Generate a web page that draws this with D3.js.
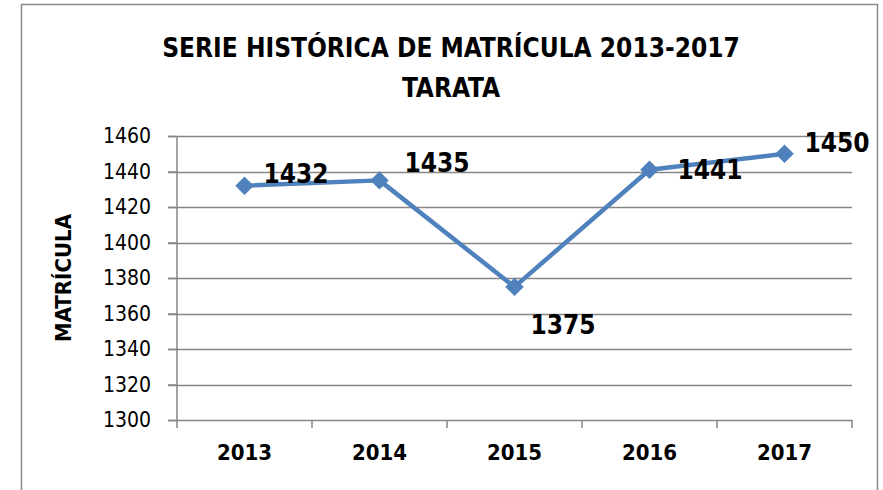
<!DOCTYPE html>
<html lang="es">
<head>
<meta charset="utf-8">
<script src="https://d3js.org/d3.v7.min.js"></script>
<style type="text/css">

body {
	margin: 0;
	background-color: #ffffff;
	font-family: "Liberation Sans Narrow", "DejaVu Sans Condensed", sans-serif;
}

.axis text {
	fill: #000;
}

</style>
</head>
<body>
<script type="text/javascript">

// Data
var years = ["2013", "2014", "2015", "2016", "2017"];
var matricula = [1432, 1435, 1375, 1441, 1450];
var yTicks = [1300, 1320, 1340, 1360, 1380, 1400, 1420, 1440, 1460];
var titleLines = ["SERIE HISTÓRICA DE MATRÍCULA 2013-2017", "TARATA"];
var yTitle = "MATRÍCULA";

var width = 883;
var height = 490;

// plot area
var plotLeft = 177, plotRight = 852, plotTop = 136, plotBottom = 420;

var lineColor = "#4f81bd";
var gridColor = "#868686";
var fontFam = "'Liberation Sans Narrow', 'DejaVu Sans Condensed', sans-serif";

var svg = d3.select("body")
  .append("svg")
  .attr("width", width)
  .attr("height", height);

// chart frame
svg.append("rect")
  .attr("x", 21.5)
  .attr("y", 4.5)
  .attr("width", 856)
  .attr("height", 500)
  .attr("fill", "#fff")
  .attr("stroke", "#8c8c8c")
  .attr("stroke-width", 1.5);

var x = d3.scaleBand()
  .domain(years)
  .range([plotLeft, plotRight]);

var y = d3.scaleLinear()
  .domain([1300, 1460])
  .range([plotBottom, plotTop]);

// gridlines
svg.append("g")
  .selectAll("line")
  .data(yTicks)
  .enter()
  .append("line")
  .attr("x1", plotLeft - 9)
  .attr("x2", plotRight)
  .attr("y1", function(d) { return Math.round(y(d)) + 0.5; })
  .attr("y2", function(d) { return Math.round(y(d)) + 0.5; })
  .attr("stroke", gridColor)
  .attr("stroke-width", 1.5);

// y axis
var yAxis = d3.axisLeft(y).tickValues(yTicks).tickFormat(d3.format("d")).tickSize(9).tickPadding(17);
var gy = svg.append("g")
  .attr("class", "axis")
  .attr("transform", "translate(" + plotLeft + ",0)")
  .call(yAxis);
gy.selectAll("line").attr("stroke", gridColor).attr("stroke-width", 1.5);
gy.select(".domain").remove();
gy.append("line")
  .attr("x1", 0).attr("x2", 0)
  .attr("y1", plotTop).attr("y2", plotBottom + 8)
  .attr("stroke", gridColor).attr("stroke-width", 1.5);
gy.selectAll("text")
  .style("font-family", fontFam)
  .style("font-size", "21px");

// x axis
var xAxis = d3.axisBottom(x).tickSize(0).tickPadding(24);
var gx = svg.append("g")
  .attr("class", "axis")
  .attr("transform", "translate(0," + plotBottom + ")")
  .call(xAxis);
gx.select(".domain").remove();
gx.selectAll("text")
  .style("font-family", fontFam)
  .style("font-size", "22px")
  .style("font-weight", "bold");

// x tick marks at band boundaries
svg.append("g")
  .selectAll("line")
  .data(years)
  .enter()
  .append("line")
  .attr("x1", function(d) { return x(d) + x.bandwidth(); })
  .attr("x2", function(d) { return x(d) + x.bandwidth(); })
  .attr("y1", plotBottom)
  .attr("y2", plotBottom + 8)
  .attr("stroke", gridColor)
  .attr("stroke-width", 1.5);

// line
var line = d3.line()
  .x(function(d, i) { return x(years[i]) + x.bandwidth() / 2; })
  .y(function(d) { return y(d); });

svg.append("path")
  .datum(matricula)
  .attr("d", line)
  .attr("fill", "none")
  .attr("stroke", lineColor)
  .attr("stroke-width", 4.5)
  .attr("stroke-linejoin", "round");

// diamond markers
svg.append("g")
  .selectAll("path")
  .data(matricula)
  .enter()
  .append("path")
  .attr("d", d3.symbol().type(d3.symbolSquare).size(170))
  .attr("transform", function(d, i) {
    return "translate(" + (x(years[i]) + x.bandwidth() / 2) + "," + y(d) + ") rotate(45)";
  })
  .attr("fill", lineColor);

// data labels (offset from the point)
var labelOffsets = [[19, -3], [25, -8], [16, 47], [28, 9], [20, -2]];
svg.append("g")
  .selectAll("text")
  .data(matricula)
  .enter()
  .append("text")
  .attr("x", function(d, i) { return x(years[i]) + x.bandwidth() / 2 + labelOffsets[i][0]; })
  .attr("y", function(d, i) { return y(d) + labelOffsets[i][1]; })
  .style("font-size", "26px")
  .style("font-weight", "bold")
  .text(function(d) { return d; });

// title
svg.append("g")
  .selectAll("text")
  .data(titleLines)
  .enter()
  .append("text")
  .attr("x", 451)
  .attr("y", function(d, i) { return 57 + i * 40; })
  .attr("text-anchor", "middle")
  .style("font-size", "26px")
  .style("font-weight", "bold")
  .text(function(d) { return d; });

// y axis title
svg.append("text")
  .attr("transform", "translate(71,278) rotate(-90)")
  .attr("text-anchor", "middle")
  .style("font-size", "22px")
  .style("font-weight", "bold")
  .text(yTitle);

</script>
</body>
</html>
